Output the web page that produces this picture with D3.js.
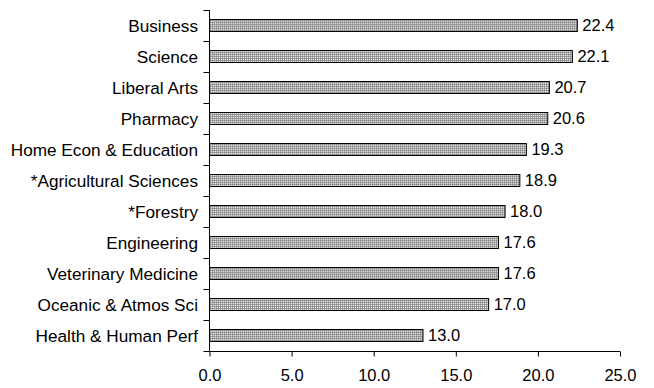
<!DOCTYPE html>
<html><head><meta charset="utf-8">
<script src="https://d3js.org/d3.v7.min.js"></script>
<style>html,body{margin:0;padding:0;background:#fff;}svg{display:block;}</style>
</head><body>
<svg id="c" width="654" height="388"></svg>
<script>
const categories = ["Business","Science","Liberal Arts","Pharmacy","Home Econ & Education","*Agricultural Sciences","*Forestry","Engineering","Veterinary Medicine","Oceanic & Atmos Sci","Health & Human Perf"];
const values = [22.4,22.1,20.7,20.6,19.3,18.9,18.0,17.6,17.6,17.0,13.0];
const xTicks = [0,5,10,15,20,25];

const svg = d3.select("#c");
const font = "Arial, 'Liberation Sans', sans-serif";
const x = d3.scaleLinear().domain([0,25]).range([209.5,620]);
const y = d3.scaleBand().domain(categories).range([10,351]).paddingInner(0.6).paddingOuter(0.3);

const defs = svg.append("defs");
const pat = defs.append("pattern").attr("id","hatch").attr("patternUnits","userSpaceOnUse").attr("width",2).attr("height",2);
pat.append("rect").attr("width",2).attr("height",2).attr("fill","#e0e0e0");
pat.append("rect").attr("width",2).attr("height",1).attr("fill","#a4a4a4");
pat.append("rect").attr("width",1).attr("height",2).attr("fill","#a4a4a4");
pat.append("rect").attr("width",1).attr("height",1).attr("fill","#888");

svg.selectAll("rect.bar").data(values).enter().append("rect")
  .attr("class","bar")
  .attr("x",x(0))
  .attr("y",(d,i)=>Math.round(y(categories[i]))+0.5)
  .attr("width",d=>x(d)-x(0))
  .attr("height",Math.round(y.bandwidth()))
  .attr("fill","url(#hatch)")
  .attr("stroke","#000").attr("stroke-width",1);

svg.selectAll("text.val").data(values).enter().append("text")
  .attr("class","val")
  .attr("x",d=>x(d)+5)
  .attr("y",(d,i)=>y(categories[i])+y.bandwidth()/2)
  .attr("dy","0.36em")
  .attr("font-family",font).attr("font-size",16.5).attr("fill","#000")
  .text(d=>d.toFixed(1));

// y axis
const yAxis = svg.append("g");
yAxis.append("line").attr("x1",x(0)).attr("x2",x(0)).attr("y1",10).attr("y2",351).attr("stroke","#000");
const step = 341/categories.length;
d3.range(categories.length+1).forEach(i=>{
  const yy = Math.round(10+i*step)+0.5;
  yAxis.append("line").attr("x1",x(0)-6).attr("x2",x(0)).attr("y1",yy).attr("y2",yy).attr("stroke","#000");
});
svg.selectAll("text.cat").data(categories).enter().append("text")
  .attr("class","cat")
  .attr("x",198)
  .attr("y",d=>y(d)+y.bandwidth()/2)
  .attr("dy","0.36em")
  .attr("text-anchor","end")
  .attr("font-family",font).attr("font-size",17.2).attr("fill","#000")
  .text(d=>d);

// x axis
const xAxis = d3.axisBottom(x).tickValues(xTicks).tickFormat(d3.format(".1f")).tickSize(5).tickPadding(13);
const gx = svg.append("g").attr("transform","translate(0,351.5)").call(xAxis);
gx.select(".domain").attr("stroke","#000").attr("d",`M${x(0)},0H${x(25)}`);
gx.selectAll(".tick line").attr("stroke","#000");
gx.selectAll(".tick text").attr("font-family",font).attr("font-size",16.5).attr("fill","#000");
</script>
</body></html>
